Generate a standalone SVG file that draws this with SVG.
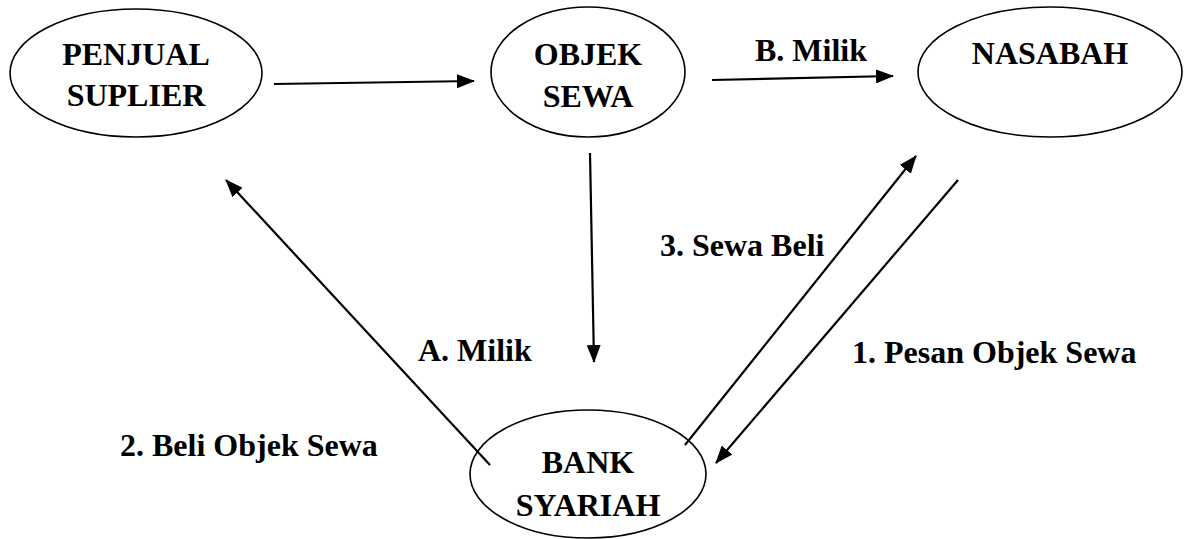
<svg xmlns="http://www.w3.org/2000/svg" width="1184" height="539" viewBox="0 0 1184 539">
<style>
.node ellipse{fill:#fff;stroke:#000;stroke-width:1.6}
text{font-weight:bold;font-size:32px;fill:#000}
.c{text-anchor:middle}
#connectors line{stroke:#000;stroke-width:2.2;marker-end:url(#ah)}
</style>
<defs>
<marker id="ah" viewBox="0 0 18 14" refX="17" refY="7" markerWidth="18" markerHeight="14" markerUnits="userSpaceOnUse" orient="auto">
<path d="M0,0 L18,7 L0,14 Z" fill="#000"/>
</marker>
</defs>
<rect width="1184" height="539" fill="#fff"/>
<g font-family="Liberation Serif, Tinos, Times New Roman, serif">
<g id="penjual" class="node">
<ellipse cx="136" cy="73" rx="126" ry="64"/>
<text class="c" x="136" y="65">PENJUAL</text>
<text class="c" x="136" y="106">SUPLIER</text>
</g>
<g id="objek" class="node">
<ellipse cx="588" cy="72" rx="97" ry="65"/>
<text class="c" x="588" y="65">OBJEK</text>
<text class="c" x="588" y="107">SEWA</text>
</g>
<g id="nasabah" class="node">
<ellipse cx="1050" cy="72" rx="132" ry="65"/>
<text class="c" x="1050" y="64">NASABAH</text>
</g>
<g id="bank" class="node">
<ellipse cx="588" cy="474" rx="118" ry="64"/>
<text class="c" x="588" y="473">BANK</text>
<text class="c" x="588" y="516">SYARIAH</text>
</g>
<g id="connectors">
<line x1="274" y1="84" x2="474" y2="81"/>
<line x1="712" y1="80" x2="893" y2="76"/>
<line x1="590" y1="153" x2="594" y2="362"/>
<line x1="490" y1="465" x2="226" y2="180"/>
<line x1="685" y1="445" x2="916" y2="156"/>
<line x1="958" y1="180" x2="716" y2="463"/>
</g>
<g id="labels">
<text x="755" y="61">B. Milik</text>
<text x="418" y="361">A. Milik</text>
<text x="660" y="256">3. Sewa Beli</text>
<text x="852" y="363">1. Pesan Objek Sewa</text>
<text x="120" y="456">2. Beli Objek Sewa</text>
</g>
</g>
</svg>
